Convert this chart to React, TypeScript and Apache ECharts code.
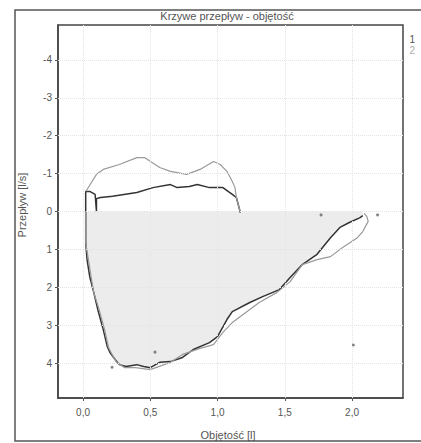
import React, { useEffect, useRef } from "react";
import * as echarts from "echarts";

const chartTitle = "Krzywe przepływ - objętość";
const xAxisTitle = "Objętość [l]";
const yAxisTitle = "Przepływ [l/s]";
const xTicks = [0, 0.5, 1.0, 1.5, 2.0];
const yTicks = [-4, -3, -2, -1, 0, 1, 2, 3, 4];

// Trial 1 (dark) – inspiratory limb
const insp1: [number, number][] = [
  [0.02, 0], [0.02, -0.53], [0.05, -0.53], [0.09, -0.45], [0.1, 0.0], [0.1, -0.34],
  [0.13, -0.37], [0.22, -0.4], [0.4, -0.5], [0.52, -0.63], [0.65, -0.71], [0.7, -0.63],
  [0.79, -0.66], [0.85, -0.71], [0.94, -0.63], [1.04, -0.63], [1.11, -0.45],
  [1.14, -0.37], [1.17, 0.03],
];
// Trial 1 (dark) – expiratory limb
const exp1: [number, number][] = [
  [0.02, 0], [0.02, 0.82], [0.03, 1.27], [0.05, 1.72], [0.08, 2.14], [0.11, 2.59],
  [0.15, 3.11], [0.18, 3.56], [0.2, 3.72], [0.24, 3.91], [0.27, 4.04], [0.32, 4.09],
  [0.4, 4.04], [0.45, 4.09], [0.5, 4.12], [0.57, 3.98], [0.65, 3.96], [0.74, 3.85],
  [0.82, 3.64], [0.94, 3.46], [1.0, 3.3], [1.07, 2.85], [1.11, 2.64], [1.24, 2.4],
  [1.34, 2.24], [1.46, 2.06], [1.54, 1.74], [1.63, 1.4], [1.74, 1.13], [1.84, 0.69],
  [1.91, 0.42], [1.98, 0.29], [2.06, 0.16], [2.08, 0.11],
];
// Trial 2 (light) – inspiratory limb
const insp2: [number, number][] = [
  [0.02, -0.53], [0.03, -0.58], [0.1, -0.98], [0.15, -1.11], [0.27, -1.24],
  [0.4, -1.42], [0.46, -1.42], [0.57, -1.16], [0.65, -1.06], [0.77, -0.98],
  [0.87, -1.11], [0.97, -1.32], [1.02, -1.24], [1.07, -1.06], [1.11, -0.79],
  [1.13, -0.63], [1.14, -0.37], [1.17, 0.03],
];
// Trial 2 (light) – expiratory limb
const exp2: [number, number][] = [
  [0.02, 0], [0.02, 0.82], [0.04, 1.27], [0.06, 1.72], [0.08, 2.14], [0.12, 2.59],
  [0.16, 3.11], [0.19, 3.59], [0.22, 3.8], [0.25, 3.98], [0.31, 4.12], [0.39, 4.12],
  [0.5, 4.17], [0.65, 3.98], [0.74, 3.77], [0.87, 3.61], [0.97, 3.51], [1.04, 3.19],
  [1.11, 2.93], [1.22, 2.64], [1.31, 2.4], [1.44, 2.14], [1.54, 1.85], [1.63, 1.4],
  [1.74, 1.27], [1.84, 1.19], [1.93, 0.95], [2.04, 0.69], [2.08, 0.53], [2.12, 0.26],
  [2.11, 0.13], [2.09, 0.05],
];
// isolated markers
const markers: [number, number][] = [
  [1.77, 0.09], [2.19, 0.09], [0.535, 3.71], [0.216, 4.11], [2.01, 3.52],
];

const fmt = (v: number) => v.toFixed(1).replace(".", ",");

export default function App() {
  const ref = useRef<HTMLDivElement>(null);
  useEffect(() => {
    if (!ref.current) return;
    const chart = echarts.init(ref.current, null, { renderer: "svg" });
    const font = "Liberation Sans, Arial, sans-serif";
    const gridLines = [
      ...xTicks.map((v) => ({ xAxis: v })),
      ...yTicks.map((v) => ({ yAxis: v })),
    ];
    chart.setOption({
      animation: false,
      backgroundColor: "#ffffff",
      textStyle: { fontFamily: font },
      grid: {
        left: 58, right: 18, top: 25, bottom: 45,
        show: true, borderColor: "#444", borderWidth: 1.5,
      },
      legend: {
        right: 1, top: 29, orient: "vertical", itemWidth: 0, itemHeight: 0,
        itemGap: 1, selectedMode: false,
        textStyle: { fontSize: 10, fontFamily: font, padding: 0 },
        data: [
          { name: "1", textStyle: { color: "#555" } },
          { name: "2", textStyle: { color: "#aaa" } },
        ],
      },
      xAxis: {
        type: "value", min: -0.186, max: 2.379,
        axisLine: { show: true, onZero: false, lineStyle: { color: "#444", width: 1.5 } },
        axisTick: { show: true, customValues: xTicks, length: 3, lineStyle: { color: "#555" } },
        axisLabel: {
          customValues: xTicks, formatter: (v: number) => fmt(v),
          color: "#555", fontSize: 10, margin: 9, fontFamily: font,
        },
        splitLine: { show: false },
      },
      yAxis: {
        type: "value", inverse: true, min: -4.92, max: 4.92,
        axisLine: { show: true, onZero: false, lineStyle: { color: "#444", width: 1.5 } },
        axisTick: { show: true, customValues: yTicks, length: 3, lineStyle: { color: "#555" } },
        axisLabel: {
          customValues: yTicks, formatter: (v: number) => String(v),
          color: "#555", fontSize: 10, margin: 6, fontFamily: font,
        },
        splitLine: { show: false },
      },
      graphic: [
        {
          type: "rect", silent: true, z: -1,
          shape: { x: 15, y: 10, width: 420, height: 431 },
          style: { fill: "none", stroke: "#555", lineWidth: 1.5 },
        },
        {
          type: "text", x: 227, y: 16,
          style: { text: chartTitle, fill: "#555", font: `11px ${font}`, textAlign: "center", textVerticalAlign: "middle" },
        },
        {
          type: "text", x: 228, y: 435,
          style: { text: xAxisTitle, fill: "#555", font: `11px ${font}`, textAlign: "center", textVerticalAlign: "middle" },
        },
        {
          type: "text", x: 22, y: 205, rotation: Math.PI / 2,
          style: { text: yAxisTitle, fill: "#555", font: `11px ${font}`, textAlign: "center", textVerticalAlign: "middle" },
        },
      ],
      series: [
        {
          name: "1", type: "line", data: exp1, showSymbol: false, z: 3,
          lineStyle: { color: "#333", width: 1.5 }, itemStyle: { color: "#555" },
          areaStyle: { color: "#ececec", opacity: 1 },
          markLine: {
            silent: true, symbol: "none", label: { show: false },
            lineStyle: { color: "#e4e4e4", type: "dotted", width: 1 },
            data: gridLines,
          },
        },
        {
          name: "1", type: "line", data: insp1, showSymbol: false, z: 3,
          lineStyle: { color: "#333", width: 1.5 }, itemStyle: { color: "#555" },
        },
        {
          name: "2", type: "line", data: exp2, showSymbol: false, z: 4,
          lineStyle: { color: "#9a9a9a", width: 1.2 }, itemStyle: { color: "#aaa" },
        },
        {
          name: "2", type: "line", data: insp2, showSymbol: false, z: 4,
          lineStyle: { color: "#9a9a9a", width: 1.2 }, itemStyle: { color: "#aaa" },
        },
        {
          name: "markers", type: "scatter", data: markers, symbolSize: 3, z: 5,
          itemStyle: { color: "#666" },
        },
      ],
    });
    return () => chart.dispose();
  }, []);
  return <div ref={ref} style={{ width: 421, height: 443, position: "absolute", left: 0, top: 0 }} />;
}
